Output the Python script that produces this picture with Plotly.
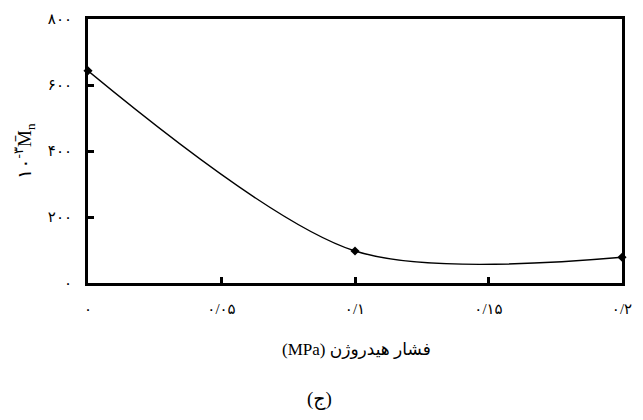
import plotly.graph_objects as go

pressure = [0, 0.1, 0.2]
mn = [643, 97, 78]

x_tickvals = [0, 0.05, 0.1, 0.15, 0.2]
x_ticktext = ["۰", "۰/۰۵", "۰/۱", "۰/۱۵", "۰/۲"]
y_tickvals = [0, 200, 400, 600, 800]
y_ticktext = ["۰", "۲۰۰", "۴۰۰", "۶۰۰", "۸۰۰"]

FONT = "Liberation Serif, DejaVu Sans, serif"

fig = go.Figure()
fig.add_trace(go.Scatter(
    x=pressure, y=mn, mode="lines+markers",
    line=dict(color="black", width=1.4, shape="spline", smoothing=0.85),
    marker=dict(symbol="diamond", size=7, color="black"),
    cliponaxis=False, showlegend=False,
))

axis_common = dict(
    showline=True, linecolor="black", linewidth=3, mirror=True,
    ticks="inside", ticklen=6, tickwidth=2.5, tickcolor="black",
    showgrid=False, zeroline=False,
    tickfont=dict(family=FONT, size=15, color="black"),
)

fig.update_xaxes(range=[0, 0.2], tickmode="array", tickvals=x_tickvals,
                 ticktext=x_ticktext, ticklabelstandoff=10, **axis_common)
fig.update_yaxes(range=[0, 800], tickmode="array", tickvals=y_tickvals,
                 ticktext=y_ticktext, ticklabelstandoff=10, **axis_common)

# RTL title: visual order "(MPa)" on the left, Persian words to the right
fig.add_annotation(text="(MPa) فشار هیدروژن", xref="paper", yref="paper",
                   x=0.502, y=-0.253, xanchor="center", yanchor="middle",
                   showarrow=False,
                   font=dict(family=FONT, size=17, color="black"))
fig.add_annotation(text="(ج)", xref="paper", yref="paper",
                   x=0.434, y=-0.44, xanchor="center", yanchor="middle",
                   showarrow=False,
                   font=dict(family=FONT, size=19, color="black"))
fig.add_annotation(text="۱۰<sup>-۳</sup>M̄<sub>n</sub>", xref="paper", yref="paper",
                   x=-0.12, y=0.5, xanchor="center", yanchor="middle",
                   showarrow=False, textangle=-90,
                   font=dict(family=FONT, size=19, color="black"))

fig.update_layout(
    width=643, height=420,
    margin=dict(l=88, r=11, t=18, b=137),
    paper_bgcolor="white", plot_bgcolor="white",
)

fig.write_html("out.html")
